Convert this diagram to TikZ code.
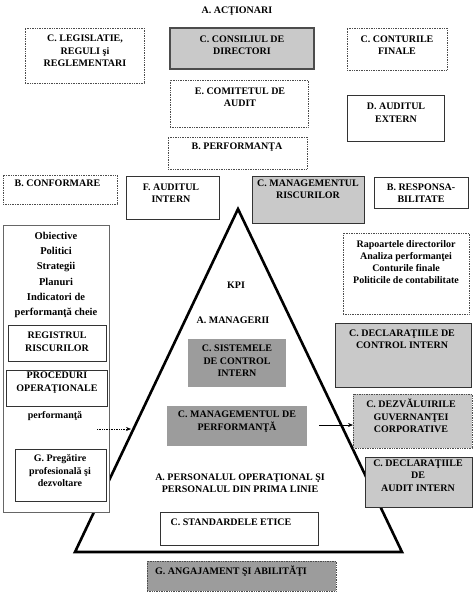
\documentclass[tikz,border=0pt]{standalone}
\usepackage{fontspec}
\setmainfont{Liberation Serif}
\usetikzlibrary{arrows.meta}
\definecolor{lgray}{HTML}{C9C9C9}
\definecolor{dgray}{HTML}{9C9C9C}
\newcommand\rbox[6]{\node[#1, minimum width={(#5-#3)*1pt}, minimum height={(#6-#4)*1pt}] (#2) at (#3,#4) {};}
\tikzset{
  bx/.style={anchor=north west, inner sep=0pt, outer sep=0pt},
  dotb/.style={bx, draw=black!70, densely dotted, line width=0.7pt, fill=white},
  solb/.style={bx, draw=black!80, line width=0.6pt, fill=white},
  txt/.style={font=\bfseries\fontsize{10}{12.5}\selectfont, align=center, inner sep=0pt},
  arr/.style={-{Stealth[length=5pt,width=4pt]}, line width=0.7pt},
}
\begin{document}
\begin{tikzpicture}[x=1pt,y=-1pt]
\useasboundingbox[fill=white] (0,0) rectangle (474,599);
% pyramid
\coordinate (apex) at (238,209);
\coordinate (bl) at (75,552);
\coordinate (br) at (402,552);
\draw[line width=2.6pt, line join=miter] (apex) -- (bl) -- (br) -- cycle;
% top
\node[txt] (act) at (237,11) {A. ACŢIONARI};
\rbox{dotb}{leg}{25}{28}{144}{83}
\node[txt] (legt) at (85,51) {C. LEGISLATIE,\\REGULI şi\\REGLEMENTARI};
\rbox{solb, fill=lgray, line width=1.1pt, draw=black!70}{cons}{170}{28}{314}{69}
\node[txt] (const) at (242,45) {C. CONSILIUL DE\\DIRECTORI};
\rbox{dotb}{cont}{347}{28}{447}{70}
\node[txt] (contt) at (397,45) {C. CONTURILE\\FINALE};
\rbox{dotb}{com}{170}{80}{308}{127}
\node[txt] (comt) at (240,97) {E. COMITETUL DE\\AUDIT};
\rbox{solb}{aext}{347}{95}{444}{141}
\node[txt] (aextt) at (396,112.5) {D. AUDITUL\\EXTERN};
\rbox{dotb}{perf}{168}{137}{307}{169}
\node[txt] (perft) at (237,147) {B. PERFORMANŢA};
\rbox{dotb}{conf}{3}{175}{117}{204}
\node[txt] (conft) at (57.5,183) {B. CONFORMARE};
\rbox{solb}{aint}{126}{176}{219}{219}
\node[txt] (aintt) at (171,193) {F. AUDITUL\\INTERN};
\rbox{solb, fill=lgray, line width=0.9pt}{mris}{252}{176}{364}{223}
\node[txt] (mrist) at (308,189) {C. MANAGEMENTUL\\RISCURILOR};
\rbox{solb, line width=0.9pt}{resp}{374}{177}{468}{208}
\node[txt] (respt) at (421,193) {B. RESPONSA-\\BILITATE};
% left column
\rbox{solb, draw=black!60}{left}{3}{225}{109}{512}
\node[txt, font=\bfseries\fontsize{10.5}{15.2}\selectfont] (leftt) at (56,275) {Obiective\\Politici\\Strategii\\Planuri\\Indicatori de\\performanţă cheie};
\rbox{solb}{reg}{8}{325}{106}{361}
\node[txt] (regt) at (57,341.5) {REGISTRUL\\RISCURILOR};
\rbox{solb}{proc}{6}{370}{107}{406}
\node[txt] (proct) at (57,382.5) {PROCEDURI\\OPERAŢIONALE};
\node[txt] (perfw) at (55,416) {performanţă};
\rbox{solb}{preg}{15}{449}{106}{501}
\node[txt] (pregt) at (60,471) {G. Pregătire\\profesională şi\\dezvoltare};
% right column
\rbox{dotb}{rap}{343}{233}{469}{314}
\node[txt, font=\bfseries\fontsize{10}{12}\selectfont] (rapt) at (406,262) {Rapoartele directorilor\\Analiza performanţei\\Conturile finale\\Politicile de contabilitate};
\rbox{solb, fill=lgray}{dci}{335}{323}{471}{387}
\node[txt] (dcit) at (402,339) {C. DECLARAŢIILE DE\\CONTROL INTERN};
\rbox{dotb, fill=lgray}{dez}{353}{394}{472}{448}
\node[txt] (dezt) at (411,416) {C. DEZVĂLUIRILE\\GUVERNANŢEI\\CORPORATIVE};
\rbox{solb, fill=lgray}{dai}{365}{457}{472}{507}
\node[txt] (dait) at (418,475.5) {C. DECLARAŢIILE\\DE\\AUDIT INTERN};
% inside pyramid
\node[txt] (kpi) at (236,285) {KPI};
\node[txt] (mgr) at (233,320) {A. MANAGERII};
\rbox{bx, fill=dgray}{sis}{188}{339}{286}{387}
\node[txt] (sist) at (237,361) {C. SISTEMELE\\DE CONTROL\\INTERN};
\rbox{bx, fill=dgray}{mp}{167}{406}{307}{446}
\node[txt] (mpt) at (237,421.5) {C. MANAGEMENTUL DE\\PERFORMANŢĂ};
\node[txt, font=\bfseries\fontsize{10}{12}\selectfont] (pers) at (240,483.5) {A. PERSONALUL OPERAŢIONAL ŞI\\PERSONALUL DIN PRIMA LINIE};
\rbox{solb}{std}{160}{512}{318}{545}
\node[txt] (stdt) at (231,522) {C. STANDARDELE ETICE};
\rbox{dotb, fill=dgray}{ang}{147}{561}{336}{591}
\node[txt] (angt) at (231,571) {G. ANGAJAMENT ŞI ABILITĂŢI};
% arrows
\coordinate (las) at (97,429);
\coordinate (lae) at (131,429);
\draw[arr, densely dotted] (las) -- (lae);
\coordinate (ras) at (319,425);
\draw[arr] (ras) -- (ras -| dez.west);
\end{tikzpicture}
\end{document}
